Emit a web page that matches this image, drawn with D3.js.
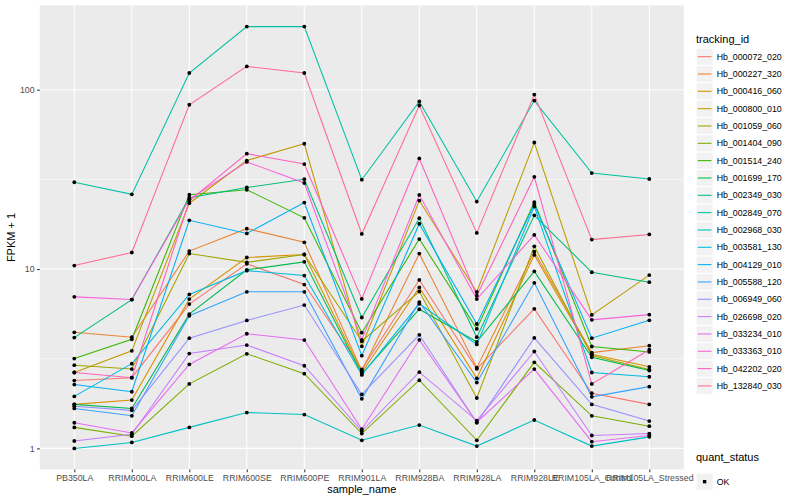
<!DOCTYPE html>
<html>
<head>
<meta charset="utf-8">
<script src="https://cdn.jsdelivr.net/npm/d3@7"></script>
<style>
body { margin: 0; background: #fff; }
text { font-family: "Liberation Sans", Arial, sans-serif; }
</style>
</head>
<body>
<svg id="chart" width="800" height="500"></svg>
<script>
//samples on the x axis
var sampleNames = ['PB350LA', 'RRIM600LA', 'RRIM600LE', 'RRIM600SE', 'RRIM600PE', 'RRIM901LA',
  'RRIM928BA', 'RRIM928LA', 'RRIM928LE', 'RRIM105LA_Control', 'RRIM105LA_Stressed'];

var trackingIds = ['Hb_000072_020', 'Hb_000227_320', 'Hb_000416_060', 'Hb_000800_010', 'Hb_001059_060',
  'Hb_001404_090', 'Hb_001514_240', 'Hb_001699_170', 'Hb_002349_030', 'Hb_002849_070',
  'Hb_002968_030', 'Hb_003581_130', 'Hb_004129_010', 'Hb_005588_120', 'Hb_006949_060',
  'Hb_026698_020', 'Hb_033234_010', 'Hb_033363_010', 'Hb_042202_020', 'Hb_132840_030'];

//ggplot hue palette, 20 levels
var hueColors = ['#F8766D', '#EA8331', '#D89000', '#C09B00', '#A3A500', '#7CAE00', '#39B600', '#00BB4E',
  '#00BF7D', '#00C1A3', '#00BFC4', '#00BAE0', '#00B0F6', '#35A2FF', '#9590FF', '#C77CFF',
  '#E76BF3', '#FA62DB', '#FF62BC', '#FF6C91'];

//FPKM + 1 per sample
var hb_000072_020 = [2.39, 2.48, 6.38, 10.7, 8.2, 2.76, 8.7, 2.78, 6.0, 2.03, 1.76];
var hb_000227_320 = [4.44, 4.17, 12.6, 16.8, 14.1, 2.70, 12.2, 2.82, 12.5, 3.42, 3.74];
var hb_000416_060 = [1.76, 1.86, 6.8, 11.6, 12.06, 2.65, 7.9, 2.46, 12.0, 3.35, 2.85];
var hb_000800_010 = [2.65, 3.5, 23.3, 40.3, 50, 3.71, 24.1, 7.45, 50.8, 5.55, 9.26];
var hb_001059_060 = [2.91, 2.77, 12.2, 10.9, 12.06, 3.96, 7.5, 1.91, 13.4, 3.3, 2.75];
var hb_001404_090 = [1.31, 1.17, 2.29, 3.37, 2.61, 1.21, 2.4, 1.11, 3.02, 1.52, 1.33];
var hb_001514_240 = [3.17, 4.06, 26.0, 27.7, 19.3, 4.42, 14.7, 4.64, 23.6, 3.70, 3.45];
var hb_001699_170 = [1.76, 1.67, 5.61, 9.9, 10.97, 2.6, 5.97, 3.93, 9.7, 3.22, 2.72];
var hb_002349_030 = [4.15, 6.76, 25.0, 28.5, 31.7, 5.37, 19.2, 4.17, 19.95, 9.6, 8.45];
var hb_002849_070 = [30.5, 26.1, 124, 225, 225, 31.5, 86, 23.8, 87, 34.3, 31.8];
var hb_002968_030 = [1.0, 1.08, 1.31, 1.585, 1.545, 1.11, 1.35, 1.03, 1.44, 1.03, 1.16];
var hb_003581_130 = [1.95, 2.97, 7.22, 9.8, 9.2, 2.57, 6.4, 3.8, 22.3, 2.65, 2.51];
var hb_004129_010 = [2.27, 2.07, 18.7, 15.8, 23.5, 3.29, 17.9, 4.94, 22.9, 4.12, 5.18];
var hb_005588_120 = [1.67, 1.52, 5.49, 7.47, 7.47, 1.89, 6.55, 2.33, 8.38, 1.94, 2.21];
var hb_006949_060 = [1.72, 1.63, 4.12, 5.17, 6.3, 2.0, 4.3, 1.39, 4.13, 1.76, 1.42];
var hb_026698_020 = [1.10, 1.20, 3.38, 3.77, 2.89, 1.25, 2.66, 1.43, 3.47, 1.18, 1.21];
var hb_033234_010 = [1.39, 1.22, 2.94, 4.36, 4.02, 1.28, 4.03, 1.40, 2.77, 1.09, 1.18];
var hb_033363_010 = [7.0, 6.76, 24.5, 39.6, 30.2, 4.03, 25.9, 6.8, 15.5, 5.21, 5.57];
var hb_042202_020 = [2.65, 2.48, 24.0, 44, 38.5, 6.82, 41.4, 7.1, 32.7, 2.29, 3.55];
var hb_132840_030 = [10.46, 12.37, 82.5, 135, 124, 15.7, 81.7, 15.9, 94, 14.6, 15.6];

var seriesValues = [hb_000072_020, hb_000227_320, hb_000416_060, hb_000800_010, hb_001059_060,
  hb_001404_090, hb_001514_240, hb_001699_170, hb_002349_030, hb_002849_070,
  hb_002968_030, hb_003581_130, hb_004129_010, hb_005588_120, hb_006949_060,
  hb_026698_020, hb_033234_010, hb_033363_010, hb_042202_020, hb_132840_030];

var yTicks = [1, 10, 100];
var statusLabels = ['OK'];

var panel = {left: 39.8, right: 683.8, top: 5.5, bottom: 469.5};

var svg = d3.select('#chart');

//log scale with ggplot style 5% expansion
var allValues = d3.merge(seriesValues);
var logMin = Math.log10(d3.min(allValues)),
    logMax = Math.log10(d3.max(allValues)),
    pad = (logMax - logMin) * 0.05;

var x = d3.scalePoint()
  .domain(sampleNames)
  .range([panel.left, panel.right])
  .padding(0.6);

var y = d3.scaleLog()
  .domain([Math.pow(10, logMin - pad), Math.pow(10, logMax + pad)])
  .range([panel.bottom, panel.top]);

//minor breaks sit halfway between decades
var minorTicks = [];
for (var i=0;i<yTicks.length-1;i++) {
  minorTicks.push(Math.sqrt(yTicks[i] * yTicks[i+1]));
}

svg.append('rect')
  .attr('x', panel.left)
  .attr('y', panel.top)
  .attr('width', panel.right - panel.left)
  .attr('height', panel.bottom - panel.top)
  .attr('fill', '#EBEBEB');

var grid = svg.append('g');
grid.selectAll('.minor')
  .data(minorTicks)
  .enter().append('line')
    .attr('x1', panel.left)
    .attr('x2', panel.right)
    .attr('y1', function(d) { return y(d); })
    .attr('y2', function(d) { return y(d); })
    .attr('stroke', '#fff')
    .attr('stroke-width', 0.53);

grid.selectAll('.major-y')
  .data(yTicks)
  .enter().append('line')
    .attr('x1', panel.left)
    .attr('x2', panel.right)
    .attr('y1', function(d) { return y(d); })
    .attr('y2', function(d) { return y(d); })
    .attr('stroke', '#fff')
    .attr('stroke-width', 1.07);

grid.selectAll('.major-x')
  .data(sampleNames)
  .enter().append('line')
    .attr('x1', function(d) { return x(d); })
    .attr('x2', function(d) { return x(d); })
    .attr('y1', panel.top)
    .attr('y2', panel.bottom)
    .attr('stroke', '#fff')
    .attr('stroke-width', 1.07);

//lines
var line = d3.line()
  .x(function(d, i) { return x(sampleNames[i]); })
  .y(function(d) { return y(d); });

svg.append('g').selectAll('path')
  .data(seriesValues)
  .enter().append('path')
    .attr('d', line)
    .attr('fill', 'none')
    .attr('stroke', function(d, i) { return hueColors[i]; })
    .attr('stroke-width', 1.07);

//points
var points = [];
seriesValues.forEach(function(series) {
  series.forEach(function(v, i) {
    points.push({sample: sampleNames[i], value: v});
  });
});

svg.append('g').selectAll('circle')
  .data(points)
  .enter().append('circle')
    .attr('cx', function(d) { return x(d.sample); })
    .attr('cy', function(d) { return y(d.value); })
    .attr('r', 1.9)
    .attr('fill', '#000');

//axes
var xAxis = svg.append('g')
  .attr('transform', 'translate(0,' + panel.bottom + ')')
  .call(d3.axisBottom(x).tickSize(2.74).tickPadding(2.5));

var yAxis = svg.append('g')
  .attr('transform', 'translate(' + panel.left + ',0)')
  .call(d3.axisLeft(y).tickValues(yTicks).tickFormat(d3.format('d')).tickSize(2.74).tickPadding(2.5));

[xAxis, yAxis].forEach(function(axis) {
  axis.select('.domain').remove();
  axis.selectAll('.tick line').attr('stroke', '#333333').attr('stroke-width', 1.07);
  axis.selectAll('.tick text')
    .attr('fill', '#4D4D4D')
    .style('font-size', '8.8px')
    .style('font-family', '"Liberation Sans", Arial, sans-serif');
});

svg.append('text')
  .attr('x', (panel.left + panel.right) / 2)
  .attr('y', 493)
  .attr('text-anchor', 'middle')
  .style('font-size', '11px')
  .text('sample_name');

svg.append('text')
  .attr('transform', 'translate(15,' + ((panel.top + panel.bottom) / 2) + ') rotate(-90)')
  .attr('text-anchor', 'middle')
  .style('font-size', '11px')
  .text('FPKM + 1');

//legend: tracking_id
var legend = svg.append('g').attr('transform', 'translate(696,0)');

legend.append('text')
  .attr('x', 0)
  .attr('y', 42.5)
  .style('font-size', '11px')
  .text('tracking_id');

var keyH = 17.33;
var keys = legend.selectAll('.key')
  .data(trackingIds)
  .enter().append('g')
    .attr('transform', function(d, i) { return 'translate(0,' + (48 + i * keyH) + ')'; });

keys.append('rect')
  .attr('x', 0.6)
  .attr('y', 0.6)
  .attr('width', 16.1)
  .attr('height', keyH - 1.2)
  .attr('fill', '#F2F2F2');

keys.append('line')
  .attr('x1', 1.7)
  .attr('x2', 15.5)
  .attr('y1', keyH / 2)
  .attr('y2', keyH / 2)
  .attr('stroke', function(d, i) { return hueColors[i]; })
  .attr('stroke-width', 1.07);

keys.append('text')
  .attr('x', 20.7)
  .attr('y', keyH / 2 + 3.1)
  .style('font-size', '8.8px')
  .text(function(d) { return d; });

//legend: quant_status
var legend2 = svg.append('g').attr('transform', 'translate(696,0)');

legend2.append('text')
  .attr('x', 0)
  .attr('y', 461)
  .style('font-size', '11px')
  .text('quant_status');

var statusKeys = legend2.selectAll('.status')
  .data(statusLabels)
  .enter().append('g')
    .attr('transform', function(d, i) { return 'translate(0,' + (473 + i * keyH) + ')'; });

statusKeys.append('rect')
  .attr('x', 0.6)
  .attr('y', 0.6)
  .attr('width', 16.1)
  .attr('height', keyH - 1.2)
  .attr('fill', '#F2F2F2');

statusKeys.append('rect')
  .attr('x', 6.9)
  .attr('y', keyH / 2 - 1.7)
  .attr('width', 3.4)
  .attr('height', 3.4)
  .attr('fill', '#000');

statusKeys.append('text')
  .attr('x', 20.7)
  .attr('y', keyH / 2 + 3.1)
  .style('font-size', '8.8px')
  .text(function(d) { return d; });
</script>
</body>
</html>
